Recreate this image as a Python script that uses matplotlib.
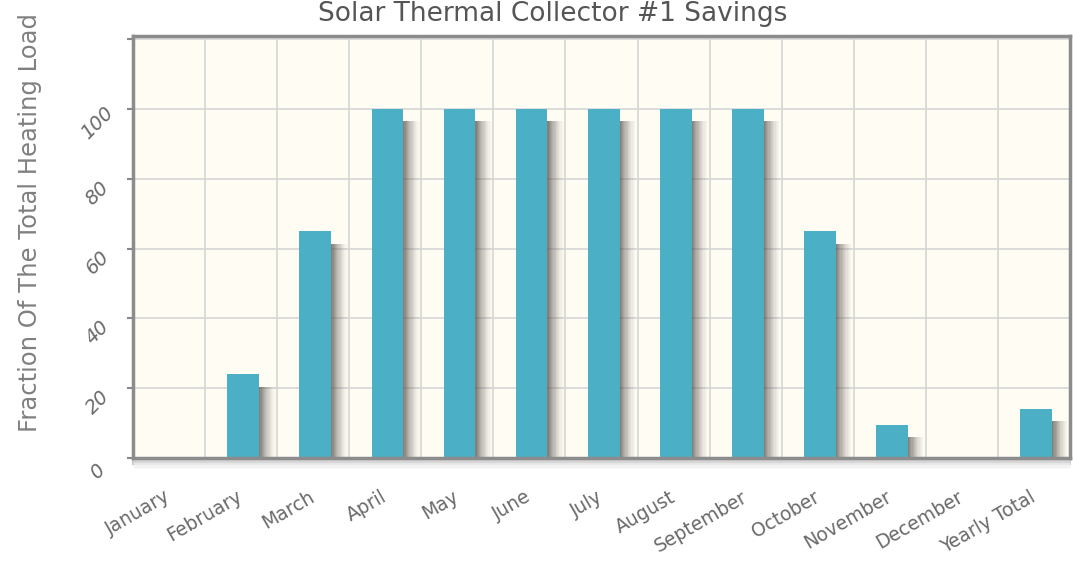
import matplotlib
matplotlib.use("Agg")
import matplotlib.pyplot as plt
from matplotlib.transforms import ScaledTranslation
import numpy as np

categories = ["January", "February", "March", "April", "May", "June", "July",
              "August", "September", "October", "November", "December", "Yearly Total"]
values = [0, 24, 65, 100, 100, 100, 100, 100, 100, 65, 9.5, 0, 14]
yticks = [0, 20, 40, 60, 80, 100]
title = "Solar Thermal Collector #1 Savings"
ylabel = "Fraction Of The Total Heating Load"

W, H = 1073, 572
fig = plt.figure(figsize=(W / 100, H / 100), dpi=100)
fig.patch.set_facecolor("white")
ax = fig.add_axes([133 / W, 1 - 458 / H, (1070 - 133) / W, (458 - 36) / H])
ax.set_facecolor("#FFFCF4")

x = np.arange(len(categories))
bw = 0.44
xoff = 0.03

# soft shadows to the right of each bar
nsl = 14
sw = 0.23
for k in range(nsl):
    a = 0.75 * (1 - k / nsl) ** 1.5
    ax.bar(x + xoff + bw / 2 + k * sw / nsl, [max(v - 3.5, 0) for v in values],
           width=sw / nsl, align="edge", color="#5A5650", alpha=a,
           linewidth=0, zorder=2)

ax.bar(x + xoff, values, width=bw, color="#4BB0C6", linewidth=0, zorder=3)

ax.set_xlim(-0.5, len(categories) - 0.5)
ax.set_ylim(0, 121)

ax.set_xticks(np.arange(-0.5, len(categories) + 0.5, 1))
ax.set_xticklabels([])
ax.set_xticks(x, minor=True)
ax.set_xticklabels(categories, minor=True, rotation=30, rotation_mode="anchor",
                   ha="right", va="center", color="#6A6A6A", fontsize=13.5)
ax.tick_params(axis="x", which="minor", length=0, pad=27)
ax.tick_params(axis="x", which="major", length=5, color="#BBBBBB", width=1.2)

ax.set_yticks(yticks + [120])
ax.set_yticklabels([str(t) for t in yticks] + [""], rotation=45,
                   rotation_mode="anchor", ha="center", va="center",
                   color="#6A6A6A", fontsize=14, style="italic")
ax.tick_params(axis="y", length=4.5, color="#888888", width=1.5, pad=21)
for lab in ax.get_yticklabels():
    lab.set_transform(lab.get_transform() +
                      ScaledTranslation(0, -0.14, fig.dpi_scale_trans))

ax.grid(True, which="major", color="#D6D6D6", linewidth=1.2, zorder=0)
ax.set_axisbelow(True)

for s in ["left", "bottom", "top", "right"]:
    ax.spines[s].set_color("#8C8C8C")
    ax.spines[s].set_linewidth(2.5)
    ax.spines[s].set_zorder(5)

# faint shadow beneath the bottom axis line
for i, c in enumerate(["#D4D4D4", "#E6E6E6", "#F2F2F2"]):
    ax.plot([0, 1], [-0.008 - i * 0.006] * 2, transform=ax.transAxes,
            color=c, lw=2.5, clip_on=False, zorder=1, solid_capstyle="butt")

fig.text(553 / W, 1 - 1 / H, title, ha="center", va="top",
         fontsize=19, color="#555555")
fig.text(30 / W, 1 - 222 / H, ylabel, rotation=90, ha="center", va="center",
         fontsize=17.5, color="#808080")

fig.savefig("out.png", dpi=100, facecolor="white")
